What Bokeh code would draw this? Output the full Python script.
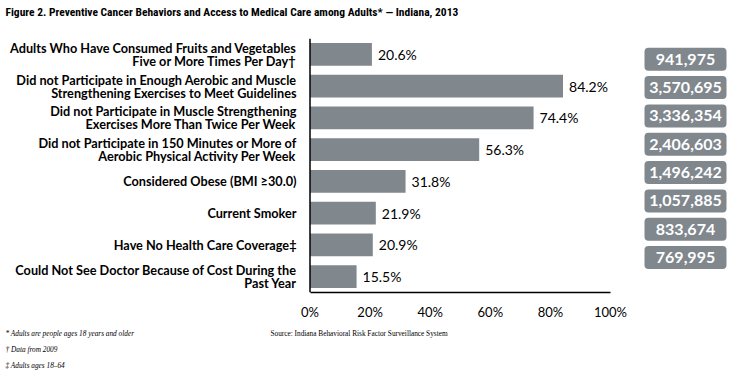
from bokeh.plotting import figure
from bokeh.models import Range1d, FixedTicker, PrintfTickFormatter, Span, ColumnDataSource
from bokeh.layouts import column, row
from bokeh.core.properties import value
from bokeh.embed import file_html
from bokeh.resources import INLINE

# ---- data ----
categories = [
    "Adults Who Have Consumed Fruits and Vegetables\nFive or More Times Per Day\u2020",
    "Did not Participate in Enough Aerobic and Muscle\nStrengthening Exercises to Meet Guidelines",
    "Did not Participate in Muscle Strengthening\nExercises More Than Twice Per Week",
    "Did not Participate in 150 Minutes or More of\nAerobic Physical Activity Per Week",
    "Considered Obese (BMI \u226530.0)",
    "Current Smoker",
    "Have No Health Care Coverage\u2021",
    "Could Not See Doctor Because of Cost During the\nPast Year",
]
percents = [20.6, 84.2, 74.4, 56.3, 31.8, 21.9, 20.9, 15.5]
counts = ["941,975", "3,570,695", "3,336,354", "2,406,603", "1,496,242", "1,057,885", "833,674", "769,995"]
x_ticks = [0, 20, 40, 60, 80, 100]

title_text = "Figure 2. Preventive Cancer Behaviors and Access to Medical Care among Adults* \u2014 Indiana, 2013"
footnotes = ["* Adults are people ages 18 years and older", "\u2020 Data from 2009", "\u2021 Adults ages 18\u201364"]
source_text = "Source: Indiana Behavioral Risk Factor Surveillance System"

# ---- layout constants (canvas pixels) ----
W, H = 731, 376
T_H = 30            # title strip height
M_W = 636           # main chart width
M_H = 294           # main chart height (canvas y 30..324)
F_H = H - T_H - M_H # footnote strip height
FRAME_TOP, FRAME_BOT = 38, 292
X0_PX, X100_PX = 309.5, 610.0
BAR = "#80878D"
n = len(categories)


def blank(w, h, xr, yr):
    f = figure(width=w, height=h, output_backend="svg", toolbar_location=None,
               x_range=xr, y_range=yr, x_axis_location=None, y_axis_location=None,
               min_border=0, min_border_left=0, min_border_right=0, min_border_top=0,
               min_border_bottom=0, title=None)
    f.outline_line_color = None
    f.xgrid.visible = False
    f.ygrid.visible = False
    f.background_fill_color = "white"
    f.border_fill_color = "white"
    return f


# ---- title strip ----
pt = blank(W, T_H, Range1d(0, W), Range1d(T_H, 0))
pt.text(x=[5], y=[11], text=[title_text], text_align="left", text_baseline="middle",
        text_font=value("Roboto Condensed"), text_font_style="bold", text_font_size="11.5px",
        text_color="black")

# ---- main chart ----
scale = (X100_PX - X0_PX) / 100.0
xs = -X0_PX / scale
xe = xs + M_W / scale
pm = figure(width=M_W, height=M_H, output_backend="svg", toolbar_location=None,
            x_range=Range1d(xs, xe), y_range=Range1d(-0.5, n - 0.5),
            y_axis_location=None, min_border_left=0, min_border_right=0,
            min_border_top=FRAME_TOP - T_H, min_border_bottom=T_H + M_H - FRAME_BOT, title=None)
pm.outline_line_color = None
pm.xgrid.visible = False
pm.ygrid.visible = False
pm.background_fill_color = "white"
pm.border_fill_color = "white"

ypos = [n - 1 - i for i in range(n)]
src = ColumnDataSource(dict(y=ypos, pct=percents, cat=categories, cnt=counts,
                            lab=[f"{v:.1f}%" for v in percents], zero=[0] * n))

pm.hbar(y="y", left="zero", right="pct", height=0.72, source=src, fill_color=BAR, line_color=None)
pm.text(x="pct", y="y", text="lab", source=src, x_offset=6, text_align="left", text_baseline="middle",
        text_font=value("Lato"), text_font_size="14px", text_color="black")
pm.text(x="zero", y="y", text="cat", source=src, x_offset=-13.5, text_align="right", text_baseline="middle",
        text_font=value("Lato"), text_font_style="bold", text_font_size="12.7px", text_color="black",
        text_line_height=0.82)

pm.add_layout(Span(location=0, dimension="height", line_color="black", line_width=1.5))
ax = pm.xaxis[0]
ax.bounds = (0, 100)
ax.ticker = FixedTicker(ticks=x_ticks)
ax.formatter = PrintfTickFormatter(format="%d%%")
ax.axis_line_color = "black"
ax.axis_line_width = 1.5
ax.major_tick_line_color = None
ax.minor_tick_line_color = None
ax.major_label_standoff = 5
ax.major_label_text_font = "Lato"
ax.major_label_text_font_size = "13px"
ax.major_label_text_color = "black"

# ---- count boxes column ----
B_W = W - M_W
box_top_c, box_step = 54.0, 32.8     # canvas y of first box centre, row spacing
k_top = (n - 1) + (box_top_c - T_H) / box_step
k_bot = k_top - M_H / box_step
pb = blank(B_W, M_H, Range1d(M_W, W), Range1d(k_bot, k_top))
BX_L, BX_R = 644, 726
pb.quad(left=BX_L, right=BX_R, bottom=[k - 0.405 for k in ypos], top=[k + 0.405 for k in ypos],
        fill_color=BAR, line_color=None, border_radius=4)
pb.text(x=(BX_L + BX_R) / 2, y="y", text="cnt", source=src, text_align="center", text_baseline="middle",
        text_font=value("Lato"), text_font_style="bold", text_font_size="16px", text_color="white")

# ---- footnotes strip ----
y0 = T_H + M_H
pf = blank(W, F_H, Range1d(0, W), Range1d(H, y0))
pf.text(x=[5] * len(footnotes), y=[333 + 16 * j for j in range(len(footnotes))], text=footnotes,
        text_align="left", text_baseline="middle", text_font=value("Liberation Serif"),
        text_font_style="italic", text_font_size="7.3px", text_color="black")
pf.text(x=[270], y=[333], text=[source_text], text_align="left", text_baseline="middle",
        text_font=value("Liberation Serif"), text_font_size="7.3px", text_color="black")

layout = column(pt, row(pm, pb, spacing=0), pf, spacing=0)
open("out.html", "w").write(file_html(layout, INLINE))
